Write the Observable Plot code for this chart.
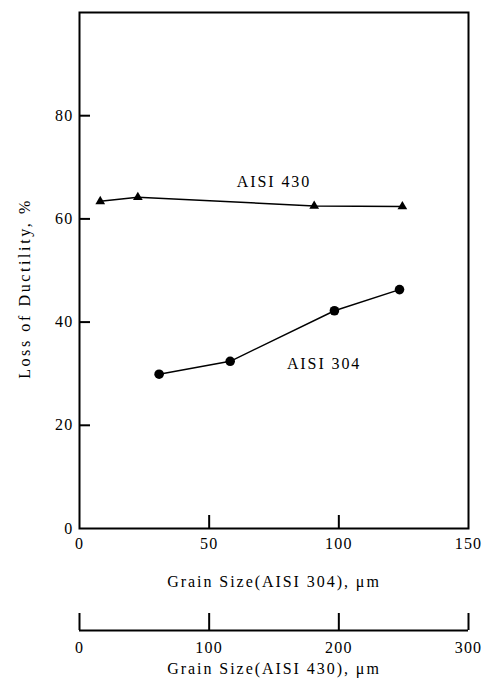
<!DOCTYPE html>
<html>
<head>
<meta charset="utf-8">
<script src="https://cdn.jsdelivr.net/npm/d3@7"></script>
<script src="https://cdn.jsdelivr.net/npm/@observablehq/plot@0.6"></script>
<style>
  html, body { margin: 0; padding: 0; background: #fff; }
  #chart { width: 491px; }
  #chart svg { display: block; }
  #chart svg, #chart svg text { font-family: "Liberation Serif", "DejaVu Serif", serif !important; }
</style>
</head>
<body>
<div id="chart"></div>
<script>
// AISI 304: grain size (µm, 304 scale) vs loss of ductility (%)
const size304 = [30.7, 58.1, 98.3, 123.4];
const loss304 = [29.9, 32.4, 42.2, 46.3];
// AISI 430: grain size (µm, 430 scale, 0–300) vs loss of ductility (%)
const size430 = [16, 45, 181, 249];
const loss430 = [63.4, 64.2, 62.5, 62.4];

const yTicks = [0, 20, 40, 60, 80];
const xTicks304 = [0, 50, 100, 150];
const xTicks430 = [0, 100, 200, 300];

const seriesLabels = ["AISI 430", "AISI 304"];
const labelX = [75, 94.3];   // in 304-scale units
const labelY = [67.2, 32];

const yTitle = "Loss of Ductility, %";
const xTitle304 = "Grain Size(AISI 304), μm";
const xTitle430 = "Grain Size(AISI 430), μm";

const d304 = size304.map((x, i) => ({x, y: loss304[i]}));
const d430 = size430.map((g, i) => ({g, y: loss430[i]}));
const labels = seriesLabels.map((t, i) => ({t, x: labelX[i], y: labelY[i]}));

const W = 491, ML = 79, MR = 23;
const H1 = 595, MT = 12, MB = 67;
const innerW = W - ML - MR, innerH = H1 - MT - MB;
const font = "'Liberation Serif', 'DejaVu Serif', serif";

const p1 = Plot.plot({
  width: W, height: H1,
  marginLeft: ML, marginRight: MR, marginTop: MT, marginBottom: MB,
  style: {fontFamily: font, fontSize: "16px", color: "#000", background: "#fff"},
  x: {domain: [0, 150]},
  y: {domain: [0, 100]},
  marks: [
    Plot.frame({stroke: "#000", strokeWidth: 2}),
    Plot.tickY(yTicks.filter(d => d > 0), {y: d => d, stroke: "#000", strokeWidth: 2, insetRight: innerW - 11}),
    Plot.tickX(xTicks304.filter(d => d > 0 && d < 150), {x: d => d, stroke: "#000", strokeWidth: 2, insetTop: innerH - 13}),
    Plot.axisY(yTicks, {tickSize: 0, tickPadding: 6, label: null, fontSize: 16, fontFamily: font}),
    Plot.axisX(xTicks304, {tickSize: 0, tickPadding: 9, label: null, fontSize: 16, fontFamily: font}),
    Plot.text([xTitle304], {frameAnchor: "bottom", dy: 58, fontSize: 16, fontFamily: font}),
    Plot.text([yTitle], {frameAnchor: "left", textAnchor: "middle", dx: -55, dy: 18, rotate: -90, fontSize: 16, fontFamily: font}),
    Plot.line(d430, {x: d => d.g / 2, y: "y", stroke: "#000", strokeWidth: 1.5}),
    Plot.dot(d430, {x: d => d.g / 2, y: "y", symbol: "triangle", r: 3.6, fill: "#000"}),
    Plot.line(d304, {x: "x", y: "y", stroke: "#000", strokeWidth: 1.5}),
    Plot.dot(d304, {x: "x", y: "y", r: 4.8, fill: "#000"}),
    Plot.text(labels, {x: "x", y: "y", text: "t", fontSize: 16, fontFamily: font})
  ]
});

const H2 = 96, MT2 = 18, MB2 = 61;
const p2 = Plot.plot({
  width: W, height: H2,
  marginLeft: ML, marginRight: MR, marginTop: MT2, marginBottom: MB2,
  style: {fontFamily: font, fontSize: "16px", color: "#000", background: "#fff"},
  x: {domain: [0, 300]},
  y: {domain: [0, 1], axis: null},
  marks: [
    Plot.ruleY([0], {stroke: "#000", strokeWidth: 2}),
    Plot.ruleX(xTicks430, {x: d => d, y1: 0, y2: 1, stroke: "#000", strokeWidth: 2}),
    Plot.axisX(xTicks430, {tickSize: 0, tickPadding: 11, label: null, fontSize: 16, fontFamily: font}),
    Plot.text([xTitle430], {frameAnchor: "bottom", dy: 43, fontSize: 16, fontFamily: font})
  ]
});

const spacingByText = new Map([
  [xTitle304, 1.95], [xTitle430, 1.95], [yTitle, 2.6],
  ...seriesLabels.map(s => [s, 1.9])
]);
for (const svg of [p1, p2]) {
  d3.select(svg).selectAll('g[aria-label="x-axis tick label"] text, g[aria-label="y-axis tick label"] text')
    .style("letter-spacing", "1.2px");
  d3.select(svg).selectAll("text").each(function() {
    const v = spacingByText.get(this.textContent);
    if (v != null) d3.select(this).style("letter-spacing", v + "px");
  });
}

const el = document.getElementById("chart");
el.appendChild(p1);
el.appendChild(p2);
</script>
</body>
</html>
